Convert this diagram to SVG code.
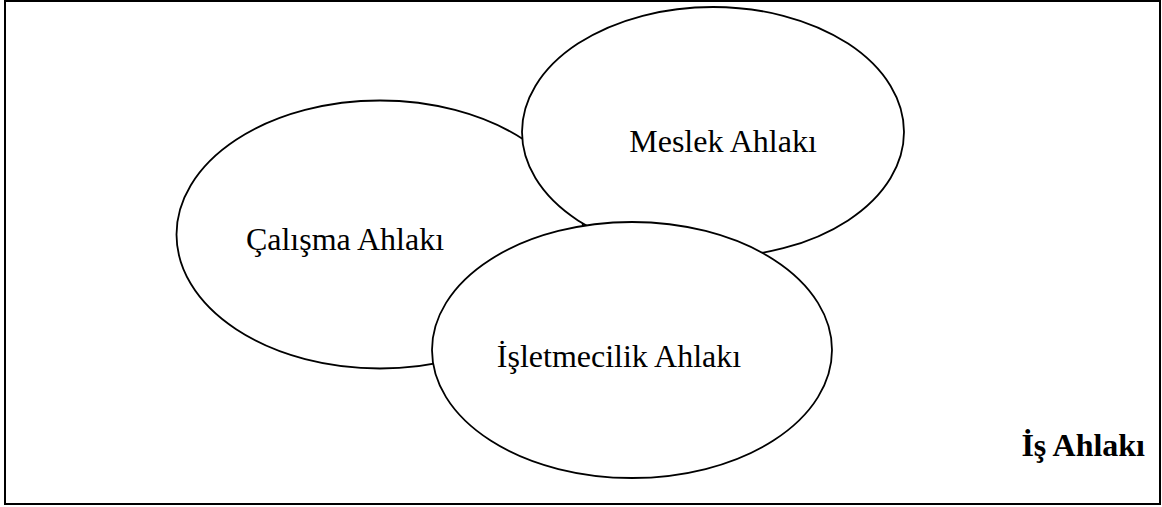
<svg xmlns="http://www.w3.org/2000/svg" width="1162" height="507" viewBox="0 0 1162 507">
<style>
.frame{fill:#fff;stroke:#000;stroke-width:2}
.ell{fill:#fff;stroke:#000;stroke-width:1.8}
.lbl{font-family:"Liberation Serif","Times New Roman",serif;font-size:32px;fill:#000;text-anchor:middle}
.title{font-family:"Liberation Serif","Times New Roman",serif;font-size:32px;font-weight:bold;fill:#000;text-anchor:end}
</style>
<rect class="frame" x="5" y="1" width="1155" height="503"/>
<g id="connectors"></g>
<g id="calisma">
<ellipse class="ell" cx="380" cy="234.5" rx="203.5" ry="134"/>
<text class="lbl" x="345" y="250">Çalışma Ahlakı</text>
</g>
<g id="meslek">
<ellipse class="ell" cx="713" cy="132" rx="191" ry="125"/>
<text class="lbl" x="723" y="152">Meslek Ahlakı</text>
</g>
<g id="isletmecilik">
<ellipse class="ell" cx="632" cy="350" rx="200" ry="128"/>
<text class="lbl" x="619" y="367">İşletmecilik Ahlakı</text>
</g>
<g id="is-ahlaki">
<text class="title" x="1145" y="456">İş Ahlakı</text>
</g>
</svg>
